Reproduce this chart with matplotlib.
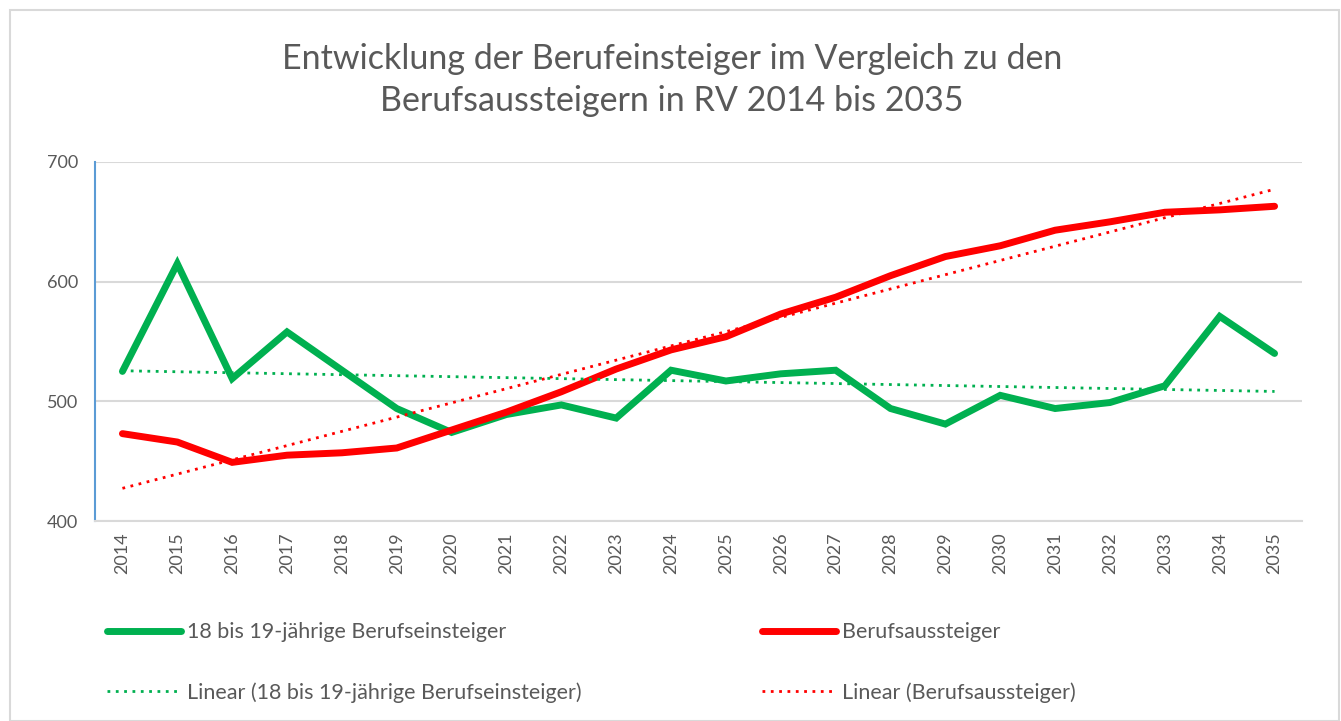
import matplotlib
matplotlib.use("Agg")
import matplotlib.pyplot as plt
import numpy as np
from matplotlib.patches import Rectangle
from matplotlib.lines import Line2D

years = list(range(2014, 2036))
einsteiger = [525, 615, 519, 558, 526, 494, 474, 489, 497, 486, 526, 517,
              523, 526, 494, 481, 505, 494, 499, 513, 571, 540]
aussteiger = [473, 466, 449, 455, 457, 461, 476, 491, 508, 527, 543, 554,
              573, 587, 605, 621, 630, 643, 650, 658, 660, 663]
labels = ["18 bis 19-jährige Berufseinsteiger", "Berufsaussteiger"]
title = "Entwicklung der Berufeinsteiger im Vergleich zu den\nBerufsaussteigern in RV 2014 bis 2035"

green = "#00B050"
red = "#FF0000"
gray_txt = "#595959"

plt.rcParams['font.family'] = ['Lato', 'DejaVu Sans']

W, H = 1341, 721
fig = plt.figure(figsize=(W / 100, H / 100), dpi=100)
fig.patches.append(Rectangle((10 / W, 0), (W - 12) / W, 1 - 10 / H, transform=fig.transFigure,
                             fill=False, edgecolor="#d9d9d9", linewidth=1.5))

ax = fig.add_axes([95 / W, 1 - 521 / H, (1302 - 95) / W, (521 - 162) / H])
x = np.arange(len(years))

ax.plot(x, einsteiger, color=green, lw=5, solid_capstyle='round', solid_joinstyle='miter', zorder=3)
ax.plot(x, aussteiger, color=red, lw=5, solid_capstyle='round', solid_joinstyle='miter', zorder=4)

pg = np.polyfit(x, einsteiger, 1)
pr = np.polyfit(x, aussteiger, 1)
ax.plot(x, np.polyval(pg, x), color=green, lw=2, linestyle=(0, (1, 2)), zorder=5)
ax.plot(x, np.polyval(pr, x), color=red, lw=2, linestyle=(0, (1, 2)), zorder=5)

ax.set_xlim(-0.5, len(years) - 0.5)
ax.set_ylim(400, 700)
ax.set_yticks([400, 500, 600, 700])
ax.set_xticks(x)
ax.set_xticklabels([str(y) for y in years], rotation=90, fontsize=13, color=gray_txt)
ax.tick_params(axis='y', labelsize=13, colors=gray_txt, length=0, pad=12)
ax.tick_params(axis='x', length=0, pad=8)
ax.grid(axis='y', color="#d9d9d9", lw=1.5)
ax.set_axisbelow(True)
for s in ['top', 'right']:
    ax.spines[s].set_visible(False)
ax.spines['left'].set_color("#5B9BD5")
ax.spines['left'].set_linewidth(1.5)
ax.spines['bottom'].set_color("#d9d9d9")
ax.spines['bottom'].set_linewidth(1.5)

fig.text(672 / W, 1 - 80 / H, title, ha='center', va='center', fontsize=24.5,
         color=gray_txt, linespacing=1.42)

handles = [
    Line2D([], [], color=green, lw=5, solid_capstyle='round'),
    Line2D([], [], color=green, lw=2, linestyle=(0, (1, 2))),
    Line2D([], [], color=red, lw=5, solid_capstyle='round'),
    Line2D([], [], color=red, lw=2, linestyle=(0, (1, 2))),
]
leg_labels = [labels[0], "Linear (" + labels[0] + ")", labels[1], "Linear (" + labels[1] + ")"]
fig.legend(handles, leg_labels, ncol=2, loc='upper left', bbox_to_anchor=(88 / W, 1 - 603 / H),
           frameon=False, fontsize=15.5, labelcolor=gray_txt, handlelength=3.4, handletextpad=0.3,
           columnspacing=8.4, labelspacing=1.85)

fig.savefig("out.png", dpi=100, facecolor="white")
